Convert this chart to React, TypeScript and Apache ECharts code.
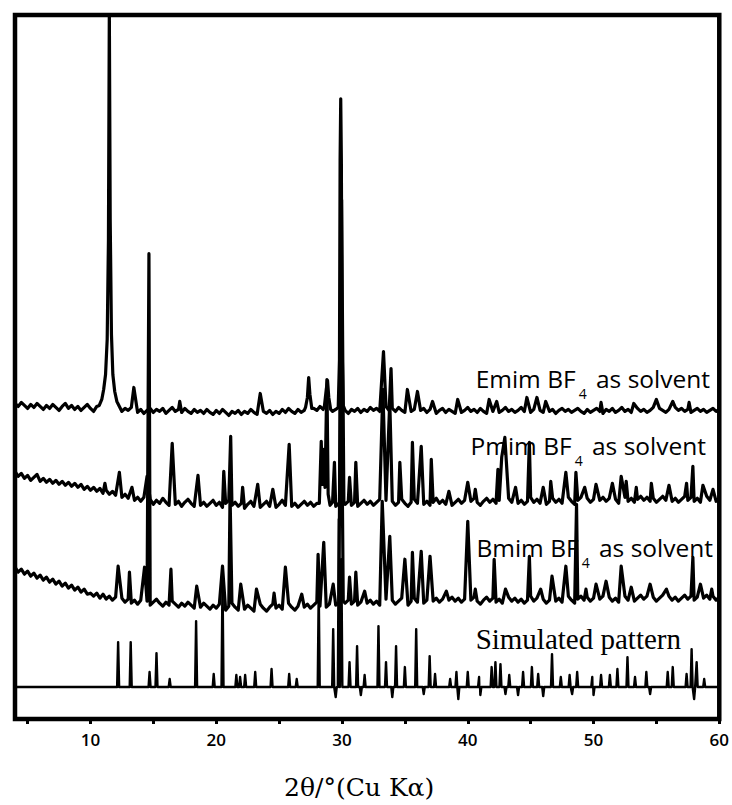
import { useEffect, useRef } from "react";
import * as echarts from "echarts";

// ---- axis ----
const X_MIN = 4;
const X_MAX = 60;
const STEP = 0.25; // spacing of the baseline readings below
const xTickValues = [5, 10, 15, 20, 25, 30, 35, 40, 45, 50, 55, 60];
const xLabelValues = [10, 20, 30, 40, 50, 60];
const xTitle = "2θ/°(Cu Kα)";

// ---- Emim BF4 trace (offset intensity) ----
const emimBase = [
  316, 313, 317, 314, 311, 315, 312, 316, 313, 310, 314, 311, 315, 312, 309, 313, 316, 311, 314, 310,
  313, 309, 312, 315, 311, 308, 313, 310, 312, 314, 312, 311, 309, 312, 308, 311, 309, 312, 310, 307,
  310, 306, 309, 311, 307, 310, 308, 311, 306, 309, 312, 308, 310, 307, 311, 308, 306, 310, 307, 309,
  306, 310, 307, 305, 309, 306, 310, 307, 304, 308, 306, 309, 305, 308, 306, 310, 307, 305, 311, 308,
  306, 309, 305, 308, 306, 310, 307, 311, 308, 306, 310, 307, 309, 312, 308, 311, 309, 313, 310, 308,
  311, 308, 310, 307, 311, 309, 306, 310, 308, 311, 307, 310, 308, 312, 309, 311, 308, 310, 313, 309,
  311, 308, 312, 309, 307, 311, 308, 310, 306, 309, 311, 307, 310, 308, 306, 309, 311, 307, 310, 308,
  306, 310, 307, 309, 312, 308, 310, 307, 311, 308, 306, 310, 308, 311, 307, 309, 312, 308, 310, 307,
  309, 312, 308, 311, 307, 310, 313, 309, 307, 311, 308, 310, 306, 309, 311, 308, 310, 307, 309, 311,
  308, 306, 310, 307, 309, 311, 308, 306, 310, 308, 311, 307, 309, 312, 308, 310, 307, 309, 311, 308,
  310, 307, 309, 312, 308, 311, 309, 307, 310, 308, 312, 309, 311, 308, 310, 307, 309, 311, 308, 310,
  307, 309, 311, 308, 310,
];
const emimTips: [number, number][] = [
  [13.45, 332], [17.1, 318], [23.5, 326], [33.3, 368], [33.9, 351], [35.2, 330], [36.0, 328],
  [37.2, 318], [39.2, 320], [41.7, 320], [42.3, 318], [44.7, 322], [45.5, 322], [46.2, 318],
  [50.6, 317], [53.2, 316], [55.0, 320], [56.3, 318], [57.6, 317],
];
const emimGroups: [number, number][][] = [
  [[10.7, 314], [10.9, 320], [11.05, 330], [11.2, 345], [11.33, 380], [11.43, 480], [11.5, 712],
   [11.57, 500], [11.67, 385], [11.78, 345], [11.93, 328], [12.1, 318], [12.3, 313]],
  [[27.1, 312], [27.25, 322], [27.35, 342], [27.45, 325], [27.6, 311]],
  [[28.6, 313], [28.75, 330], [28.85, 339], [28.95, 322], [29.1, 310]],
  [[29.7, 312], [29.8, 360], [29.85, 560], [29.9, 621], [29.95, 560], [30.0, 380], [30.1, 314]],
];

// ---- Pmim BF4 trace ----
const pmimBase = [
  248, 243, 246, 241, 244, 239, 242, 245, 238, 241, 237, 240, 236, 239, 235, 238, 234, 237, 233, 236,
  232, 235, 230, 233, 229, 232, 228, 231, 226, 229, 225, 228, 224, 227, 222, 225, 221, 224, 219, 222,
  218, 222, 217, 220, 215, 219, 216, 221, 217, 214, 219, 215, 218, 213, 217, 220, 216, 213, 218, 214,
  217, 213, 216, 219, 214, 217, 212, 216, 219, 214, 217, 213, 216, 211, 215, 218, 213, 216, 212, 215,
  218, 213, 216, 212, 215, 219, 214, 217, 213, 216, 212, 215, 218, 214, 217, 213, 216, 219, 215, 218,
  214, 217, 213, 216, 212, 215, 218, 214, 217, 213, 216, 219, 215, 218, 214, 217, 220, 216, 219, 215,
  218, 214, 217, 220, 216, 213, 217, 220, 216, 219, 215, 218, 214, 217, 221, 216, 219, 215, 218, 214,
  217, 220, 216, 219, 215, 218, 221, 217, 214, 218, 221, 217, 220, 216, 219, 215, 218, 221, 217, 220,
  216, 219, 215, 218, 222, 217, 220, 216, 219, 215, 218, 221, 217, 220, 216, 219, 222, 218, 215, 219,
  222, 218, 221, 217, 220, 216, 219, 222, 218, 221, 217, 220, 216, 219, 222, 218, 221, 217, 220, 223,
  219, 222, 218, 221, 217, 220, 223, 219, 222, 218, 221, 217, 220, 223, 219, 222, 218, 221, 217, 220,
  223, 219, 222, 218, 221,
];
const pmimTips: [number, number][] = [
  [11.15, 236], [12.3, 247], [13.3, 232], [14.5, 243], [16.5, 276], [18.55, 244], [20.6, 248],
  [21.15, 283], [22.1, 232], [23.3, 235], [24.5, 230], [25.8, 275], [29.4, 257], [30.6, 242],
  [31.1, 257], [33.25, 330], [33.8, 318], [34.6, 257], [35.6, 277], [36.3, 273], [37.1, 260],
  [38.5, 228], [40.0, 237], [40.6, 230], [42.4, 250], [42.7, 262], [42.95, 282], [43.8, 232],
  [44.9, 277], [46.0, 232], [46.6, 238], [47.8, 247], [48.6, 247], [49.3, 232], [50.2, 235],
  [51.5, 236], [52.2, 243], [52.6, 238], [53.4, 232], [54.6, 236], [56.0, 234], [57.4, 236],
  [57.9, 253], [58.7, 234], [59.5, 230],
];
const pmimGroups: [number, number][][] = [
  [[28.2, 216], [28.35, 278], [28.45, 235], [28.55, 270], [28.65, 232], [28.8, 340], [28.9, 225], [29.05, 214]],
  [[29.8, 215], [29.9, 400], [29.97, 520], [30.05, 380], [30.15, 218]],
];

// ---- Bmim BF4 trace ----
const bmimBase = [
  152, 147, 150, 145, 148, 143, 146, 141, 144, 139, 142, 137, 140, 135, 138, 133, 136, 131, 134, 129,
  132, 127, 130, 125, 128, 123, 126, 121, 125, 120, 123, 119, 122, 118, 121, 117, 120, 116, 119, 115,
  119, 115, 118, 114, 117, 120, 116, 113, 117, 114, 118, 115, 112, 116, 113, 117, 114, 111, 115, 112,
  116, 113, 110, 114, 111, 115, 112, 109, 113, 116, 112, 109, 113, 110, 114, 111, 108, 112, 115, 111,
  108, 112, 115, 111, 114, 110, 113, 116, 112, 109, 113, 116, 112, 115, 111, 114, 117, 113, 116, 112,
  115, 118, 114, 117, 113, 116, 119, 115, 118, 114, 117, 113, 116, 119, 115, 118, 114, 117, 120, 116,
  119, 115, 118, 121, 117, 114, 118, 121, 117, 120, 116, 119, 115, 118, 121, 117, 120, 116, 119, 122,
  118, 121, 117, 120, 116, 119, 122, 118, 115, 119, 122, 118, 121, 117, 120, 116, 119, 122, 118, 121,
  117, 120, 116, 119, 123, 118, 121, 117, 120, 116, 119, 122, 118, 121, 117, 120, 123, 119, 116, 120,
  123, 119, 122, 118, 121, 117, 120, 123, 119, 122, 118, 121, 117, 120, 123, 119, 122, 118, 121, 124,
  120, 123, 119, 122, 118, 121, 124, 120, 123, 119, 122, 118, 121, 124, 120, 123, 119, 122, 118, 121,
  124, 120, 123, 119, 122,
];
const bmimTips: [number, number][] = [
  [10.0, 126], [12.2, 153], [13.1, 147], [14.3, 152], [14.65, 466], [16.4, 150], [18.45, 133],
  [20.5, 153], [21.1, 225], [21.95, 135], [23.2, 130], [24.6, 126], [25.5, 152], [26.8, 125],
  [28.1, 165], [28.55, 177], [29.3, 135], [30.6, 142], [31.1, 147], [31.8, 128], [33.2, 218],
  [33.8, 183], [35.0, 160], [35.6, 167], [36.3, 168], [37.0, 163], [38.3, 128], [40.0, 198],
  [40.6, 130], [42.1, 160], [43.0, 130], [44.9, 163], [45.8, 130], [46.7, 143], [47.8, 153],
  [48.65, 215], [49.4, 130], [50.2, 135], [51.0, 138], [52.2, 153], [53.0, 132], [54.5, 135],
  [55.8, 130], [57.9, 162], [58.5, 135], [59.4, 130],
];
const bmimGroups: [number, number][][] = [
  [[29.75, 116], [29.85, 300], [29.9, 420], [29.98, 300], [30.1, 118]],
];

// ---- Simulated pattern (flat baseline, sharp lines and small dips) ----
const simBaseline = 32;
const simLines: [number, number][] = [
  [12.2, 77], [13.2, 77], [14.7, 47], [15.25, 66], [16.3, 40], [18.4, 98], [19.8, 45], [20.5, 140],
  [21.6, 44], [21.9, 42], [22.3, 44], [23.1, 47], [24.4, 50], [25.8, 45], [26.4, 40], [28.15, 130],
  [29.3, 90], [29.5, 22], [29.75, 200], [29.95, 160], [30.6, 57], [31.2, 73], [31.5, 24], [31.8, 44],
  [32.9, 93], [33.5, 57], [34.0, 22], [34.3, 73], [35.0, 52], [35.9, 90], [36.5, 25], [36.97, 63],
  [37.4, 45], [38.6, 40], [39.1, 47], [39.25, 20], [40.0, 47], [40.9, 42], [41.0, 24], [41.9, 52],
  [42.2, 57], [42.6, 55], [43.0, 25], [43.3, 44], [44.0, 24], [44.4, 47], [45.1, 52], [45.6, 45],
  [46.0, 23], [46.7, 65], [47.4, 42], [48.1, 44], [48.3, 25], [48.7, 47], [49.9, 42], [50.0, 24],
  [50.6, 44], [51.3, 44], [51.9, 50], [52.7, 62], [53.3, 42], [54.2, 47], [54.5, 25], [55.9, 47],
  [56.3, 52], [57.4, 45], [57.8, 70], [58.0, 20], [58.2, 57], [58.8, 40],
];

// ---- labels ----
const traceLabels = [
  { rich: "Emim BF{s|4} as solvent", x: 710, y: 378, serif: false },
  { rich: "Pmim BF{s|4} as solvent", x: 706, y: 445, serif: false },
  { rich: "Bmim BF{s|4} as solvent", x: 713, y: 547, serif: false },
  { rich: "Simulated pattern", x: 681, y: 639, serif: true },
];

function buildTrace(base: number[], tips: [number, number][], groups: [number, number][][]) {
  const pts: [number, number][] = [];
  base.forEach((v, i) => {
    const x = X_MIN + i * STEP;
    const nearTip = tips.some((t) => Math.abs(t[0] - x) < 0.08);
    const inGroup = groups.some((g) => x >= g[0][0] - 0.01 && x <= g[g.length - 1][0] + 0.01);
    if (!nearTip && !inGroup) pts.push([x, v]);
  });
  tips.forEach((t) => pts.push([t[0], t[1]]));
  groups.forEach((g) => g.forEach((p) => pts.push([p[0], p[1]])));
  pts.sort((a, b) => a[0] - b[0]);
  return pts;
}

function buildSim(baseline: number, lines: [number, number][]) {
  const pts: [number, number][] = [[X_MIN, baseline], [X_MAX, baseline]];
  lines.forEach((l) => {
    pts.push([l[0] - 0.08, baseline]);
    pts.push([l[0], l[1]]);
    pts.push([l[0] + 0.08, baseline]);
  });
  pts.sort((a, b) => a[0] - b[0]);
  return pts;
}

export default function App() {
  const ref = useRef<HTMLDivElement>(null);
  useEffect(() => {
    if (!ref.current) return;
    const chart = echarts.init(ref.current, null, { renderer: "svg" });
    const lineSeries = (data: [number, number][], width: number) => ({
      type: "line",
      data,
      showSymbol: false,
      silent: true,
      lineStyle: { color: "#000", width, join: "round" },
      clip: true,
    });
    chart.setOption({
      animation: false,
      backgroundColor: "#fff",
      grid: {
        left: 15,
        right: 12,
        top: 15,
        bottom: 85,
        show: true,
        borderColor: "#000",
        borderWidth: 4.5,
      },
      xAxis: {
        type: "value",
        min: X_MIN,
        max: X_MAX,
        axisLine: { show: false },
        splitLine: { show: false },
        axisTick: {
          show: true,
          customValues: xTickValues,
          length: 5,
          inside: false,
          lineStyle: { color: "#000", width: 3 },
        },
        axisLabel: {
          customValues: xLabelValues,
          color: "#000",
          fontSize: 17,
          fontWeight: 600,
          fontFamily: "Open Sans",
          margin: 12,
        },
        name: xTitle,
        nameLocation: "middle",
        nameGap: 56,
        nameTextStyle: {
          color: "#000",
          fontSize: 25,
          fontFamily: "DejaVu Serif",
          padding: [0, 16, 0, 0],
        },
      },
      yAxis: {
        type: "value",
        min: 0,
        max: 705,
        show: false,
      },
      series: [
        lineSeries(buildTrace(emimBase, emimTips, emimGroups), 3.2),
        lineSeries(buildTrace(pmimBase, pmimTips, pmimGroups), 3.2),
        lineSeries(buildTrace(bmimBase, bmimTips, bmimGroups), 3.2),
        lineSeries(buildSim(simBaseline, simLines), 2.4),
      ],
      graphic: traceLabels.map((l) => ({
        type: "text",
        x: l.x,
        y: l.y,
        z: 100,
        style: {
          text: l.rich,
          fill: "#000",
          fontSize: l.serif ? 29 : 24.5,
          fontFamily: l.serif ? "Liberation Serif" : "Open Sans",
          align: "right",
          textAlign: "right",
          verticalAlign: "middle",
          textVerticalAlign: "middle",
          rich: {
            s: {
              fontSize: 14,
              fontFamily: "Open Sans",
              fill: "#000",
              padding: [30, 3, 0, 3],
            },
          },
        },
      })),
    });
    return () => chart.dispose();
  }, []);
  return (
    <div
      ref={ref}
      style={{ position: "fixed", left: 0, top: 0, width: 732, height: 805, background: "#fff" }}
    />
  );
}
